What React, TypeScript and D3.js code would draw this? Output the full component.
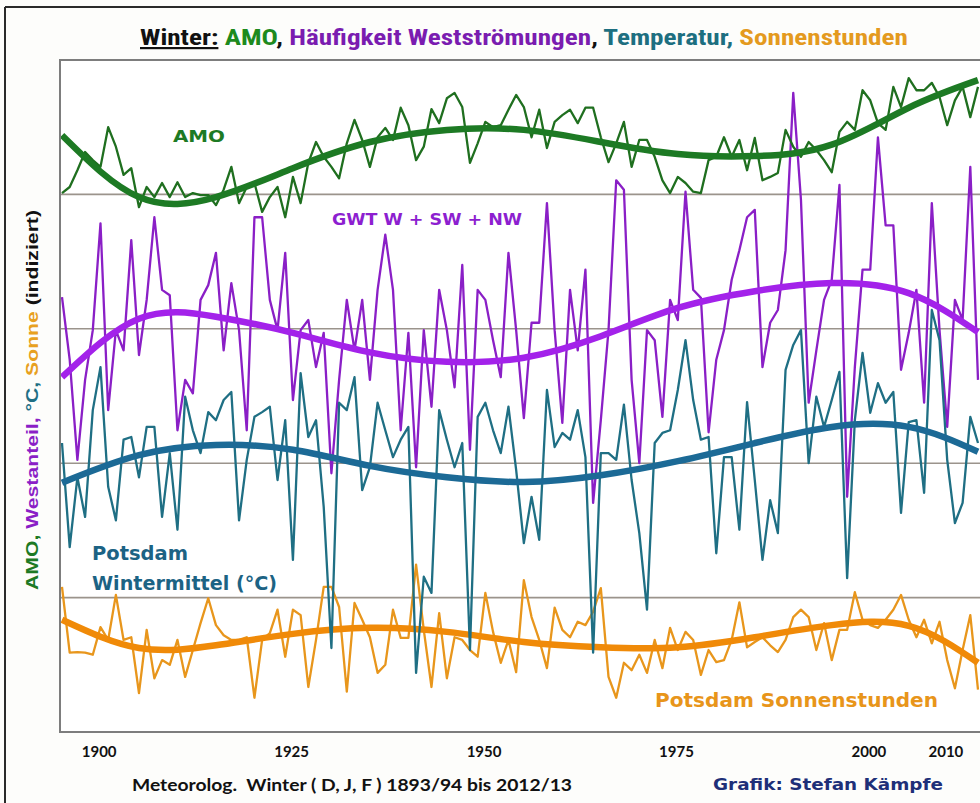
import React from 'react';
import * as d3 from 'd3';

// winters labelled by the year of January/February (1893/94 -> 1894)
const firstWinter = 1894;

// all series indexed 0..100 (as in the source chart: "indiziert")
const amo = [
  80.2, 81.1, 83.6, 86.3, 85.1, 84.1, 90.0, 87.1, 82.9, 83.9,
  78.1, 81.1, 79.6, 81.7, 79.6, 81.8, 79.6, 80.2, 79.9, 79.9,
  78.4, 80.7, 84.1, 78.7, 81.1, 81.7, 77.4, 79.6, 81.1, 76.6,
  82.6, 78.7, 84.7, 87.8, 85.6, 84.1, 82.4, 87.6, 91.1, 88.1,
  84.1, 88.5, 89.9, 88.1, 92.9, 90.3, 85.1, 87.1, 92.7, 90.6,
  94.3, 95.1, 93.0, 84.7, 87.6, 90.8, 90.0, 90.3, 92.6, 94.8,
  93.0, 88.5, 92.6, 86.9, 90.8, 91.8, 92.6, 90.6, 92.9, 92.9,
  88.5, 84.8, 87.6, 90.8, 84.1, 88.1, 88.1, 85.6, 82.1, 80.2,
  82.6, 81.7, 80.4, 80.2, 85.1, 85.6, 88.5, 85.6, 88.1, 83.6,
  88.4, 82.1, 82.6, 83.2, 89.6, 87.1, 85.6, 87.8, 86.6, 85.1,
  83.3, 89.3, 90.8, 89.6, 95.5, 94.0, 90.6, 89.6, 96.0, 93.0,
  97.3, 95.5, 95.5, 96.6, 94.5, 90.3, 94.0, 96.0, 91.5, 96.0,
];

const gwt = [
  64.7, 55.4, 40.5, 52.4, 59.8, 75.7, 47.9, 59.8, 56.8, 73.2,
  56.1, 64.3, 76.6, 65.8, 65.0, 44.9, 52.4, 50.4, 64.3, 66.5,
  71.3, 56.8, 66.8, 59.8, 44.9, 76.6, 76.6, 64.3, 59.8, 71.3,
  49.4, 59.8, 61.3, 54.3, 59.4, 38.5, 52.4, 64.3, 56.8, 64.3,
  52.4, 65.8, 74.0, 65.8, 44.9, 59.4, 39.4, 59.8, 48.4, 65.8,
  59.8, 51.3, 69.5, 42.0, 65.8, 64.3, 58.3, 52.8, 71.3, 59.8,
  46.7, 60.9, 60.9, 78.7, 59.8, 46.0, 65.8, 56.8, 68.8, 34.1,
  46.4, 59.8, 82.1, 80.7, 52.4, 40.0, 59.8, 58.3, 46.9, 64.3,
  61.3, 80.4, 65.8, 64.6, 44.6, 55.4, 59.8, 67.3, 71.7, 76.6,
  77.7, 54.3, 60.9, 62.8, 71.7, 95.1, 79.2, 49.0, 56.8, 64.3,
  67.3, 81.4, 35.0, 54.3, 68.8, 68.8, 88.5, 75.4, 75.4, 53.9,
  59.4, 65.8, 49.0, 78.7, 59.8, 45.4, 64.3, 61.3, 84.1, 52.4,
];

const temperature = [
  43.0, 27.5, 37.9, 32.0, 47.9, 54.3, 36.5, 31.5, 43.5, 43.9,
  37.9, 45.4, 45.4, 32.0, 41.5, 30.1, 49.9, 44.9, 41.5, 47.6,
  46.4, 49.4, 50.6, 31.5, 40.5, 46.9, 47.6, 48.4, 37.5, 46.4,
  25.6, 53.4, 43.9, 46.4, 33.5, 12.5, 49.0, 47.9, 52.8, 36.0,
  39.4, 49.0, 44.9, 40.9, 43.5, 45.4, 8.8, 23.1, 20.7, 47.9,
  43.5, 39.4, 43.0, 12.2, 46.9, 49.0, 44.9, 41.5, 48.4, 39.0,
  28.1, 35.0, 28.6, 50.9, 42.4, 44.5, 43.5, 47.9, 40.9, 11.8,
  41.5, 41.5, 40.5, 48.7, 37.5, 29.6, 18.2, 43.0, 44.5, 44.9,
  50.9, 58.3, 49.4, 43.5, 43.9, 26.6, 40.9, 40.9, 30.1, 49.1,
  37.5, 25.6, 34.5, 29.6, 53.9, 57.6, 59.8, 40.0, 49.9, 45.4,
  49.4, 53.6, 22.9, 46.4, 56.4, 47.5, 51.9, 49.0, 50.6, 32.6,
  46.1, 46.4, 35.6, 62.8, 58.3, 40.5, 31.1, 34.1, 46.9, 43.0,
];

const sunshine = [
  21.6, 11.8, 11.9, 11.8, 11.5, 15.6, 13.7, 20.4, 13.7, 14.1,
  5.8, 15.2, 8.0, 10.7, 10.0, 13.7, 8.2, 12.2, 16.2, 19.9,
  15.9, 14.4, 13.7, 13.7, 14.1, 5.1, 13.7, 14.7, 18.2, 11.2,
  18.2, 17.4, 6.7, 13.7, 21.6, 21.6, 18.6, 6.0, 19.2, 16.7,
  14.1, 8.8, 10.0, 18.2, 14.0, 14.0, 24.9, 15.2, 6.7, 17.7,
  8.0, 14.1, 13.7, 12.2, 11.2, 20.7, 14.9, 10.3, 13.7, 8.9,
  22.6, 17.1, 13.7, 9.5, 18.5, 15.2, 14.1, 16.4, 15.9, 17.9,
  21.4, 8.2, 5.1, 10.3, 9.2, 11.5, 8.8, 13.7, 9.5, 15.5,
  12.2, 14.9, 13.7, 8.5, 12.2, 10.4, 10.7, 13.7, 19.3, 12.6,
  13.4, 14.1, 12.9, 11.9, 13.7, 17.1, 18.2, 17.1, 12.2, 16.2,
  10.7, 15.2, 15.2, 20.8, 16.7, 15.9, 15.5, 16.7, 18.2, 20.4,
  16.7, 14.1, 16.7, 13.2, 16.4, 10.7, 6.5, 12.2, 17.4, 6.3,
];

// smoothed trend curves
const trendYears = [1894, 1904, 1914, 1924, 1934, 1944, 1954, 1964, 1974, 1984, 1994, 2004, 2013];
const amoTrend = [88.8, 79.6, 79.6, 83.9, 87.8, 89.6, 89.6, 87.8, 86.0, 85.7, 87.4, 92.9, 97.0];
const gwtTrend = [52.8, 61.5, 61.8, 59.4, 56.5, 55.1, 55.7, 58.9, 63.1, 65.6, 66.8, 65.3, 59.5];
const temperatureTrend = [37.1, 41.2, 42.7, 42.0, 39.6, 37.9, 37.2, 38.2, 40.3, 43.0, 45.4, 45.4, 41.7];
const sunshineTrend = [16.7, 12.5, 12.9, 14.6, 15.5, 14.9, 13.4, 12.6, 12.6, 14.1, 15.9, 15.8, 10.3];

const tickYears = [1900, 1925, 1950, 1975, 2000, 2010];
const gridValues = [20, 40, 60, 80];

const W = 980;
const H = 803;
const plot = { left: 60, top: 60, right: 1000, bottom: 732 };

const C = {
  amo: '#1f6f1f',
  amoTrend: '#1d7a24',
  gwt: '#8a1fc6',
  gwtTrend: '#a322ea',
  temp: '#1f6f84',
  tempTrend: '#1c6a96',
  sun: '#e8961c',
  sunTrend: '#f08a08',
};

const heavy = "'DejaVu Sans', 'Open Sans', sans-serif";
const narrow = "'Liberation Sans Narrow', 'Roboto Condensed', 'Liberation Sans', sans-serif";
const calibriLike = "Lato, 'Open Sans', sans-serif";

export default function App() {
  const x = d3.scaleLinear().domain([1894, 2013]).range([62, 978]);
  const y = d3.scaleLinear().domain([0, 100]).range([plot.bottom, plot.top]);

  const raw = d3
    .line<number>()
    .x((_, i) => x(firstWinter + i))
    .y((d) => y(d));

  const smooth = (vals: number[]) =>
    d3
      .line<number>()
      .curve(d3.curveNatural)
      .x((_, i) => x(trendYears[i]))
      .y((d) => y(d))(vals) || '';

  return (
    <svg width={W} height={H} style={{ display: 'block', position: 'absolute', left: 0, top: 0, background: '#fff' }}>
      <defs>
        <clipPath id="plotClip">
          <rect x={plot.left} y={plot.top} width={plot.right - plot.left} height={plot.bottom - plot.top} />
        </clipPath>
      </defs>
      <rect x={0} y={0} width={W} height={H} fill="#fdfdfb" />
      {/* outer frame */}
      <line x1={5} y1={7} x2={W} y2={7} stroke="#2a2a2a" strokeWidth={2} />
      <line x1={5} y1={7} x2={5} y2={H} stroke="#2a2a2a" strokeWidth={2} />

      {/* title */}
      <text x={140} y={45} textLength={768} lengthAdjust="spacingAndGlyphs" fontFamily={narrow} fontWeight="bold" fontSize={22}>
        <tspan fill="#111" style={{ textDecoration: 'underline' }}>Winter:</tspan>
        <tspan fill="#1d8a1d"> AMO</tspan>
        <tspan fill="#111">, </tspan>
        <tspan fill="#7a1cb0">Häufigkeit Westströmungen</tspan>
        <tspan fill="#111">, </tspan>
        <tspan fill="#1d6f80">Temperatur,</tspan>
        <tspan fill="#e49a1e"> Sonnenstunden</tspan>
      </text>

      {/* plot area */}
      <rect x={plot.left} y={plot.top} width={plot.right - plot.left} height={plot.bottom - plot.top} fill="#fff" />
      {gridValues.map((g) => (
        <line key={g} x1={plot.left} x2={plot.right} y1={y(g)} y2={y(g)} stroke="#9b948c" strokeWidth={1.6} />
      ))}

      <g clipPath="url(#plotClip)" fill="none" strokeLinejoin="round">
        <path d={raw(sunshine) || ''} stroke={C.sun} strokeWidth={2.3} />
        <path d={smooth(sunshineTrend)} stroke={C.sunTrend} strokeWidth={6.5} />
        <path d={raw(gwt) || ''} stroke={C.gwt} strokeWidth={2.3} />
        <path d={smooth(gwtTrend)} stroke={C.gwtTrend} strokeWidth={6.5} />
        <path d={raw(temperature) || ''} stroke={C.temp} strokeWidth={2.3} />
        <path d={smooth(temperatureTrend)} stroke={C.tempTrend} strokeWidth={6.5} />
        <path d={raw(amo) || ''} stroke={C.amo} strokeWidth={2.3} />
        <path d={smooth(amoTrend)} stroke={C.amoTrend} strokeWidth={6.5} />
      </g>

      <rect x={plot.left} y={plot.top} width={plot.right - plot.left} height={plot.bottom - plot.top} fill="none" stroke="#7d7d7d" strokeWidth={2} />

      {/* series labels */}
      <text x={173} y={142} textLength={52} lengthAdjust="spacingAndGlyphs" fontFamily={heavy} fontWeight="bold" fontSize={16} fill={C.amoTrend}>AMO</text>
      <text x={332} y={225} textLength={190} lengthAdjust="spacingAndGlyphs" fontFamily={heavy} fontWeight="bold" fontSize={16} fill="#8d1fd0">GWT W + SW + NW</text>
      <text x={92} y={560} textLength={96} lengthAdjust="spacingAndGlyphs" fontFamily={heavy} fontWeight="bold" fontSize={19} fill="#1c6384">Potsdam</text>
      <text x={92} y={590} textLength={185} lengthAdjust="spacingAndGlyphs" fontFamily={heavy} fontWeight="bold" fontSize={19} fill="#1c6384">Wintermittel (°C)</text>
      <text x={655} y={707} textLength={283} lengthAdjust="spacingAndGlyphs" fontFamily={heavy} fontWeight="bold" fontSize={19} fill="#e8951a">Potsdam Sonnenstunden</text>

      {/* y axis title */}
      <text transform="translate(38,590) rotate(-90)" textLength={380} lengthAdjust="spacingAndGlyphs" fontFamily="'Liberation Sans', Arial, sans-serif" fontWeight="bold" fontSize={17}>
        <tspan fill="#1d7a24">AMO, </tspan>
        <tspan fill="#8a1fc6">Westanteil, </tspan>
        <tspan fill="#1f6f84">°C, </tspan>
        <tspan fill="#e8a020">Sonne </tspan>
        <tspan fill="#111">(indiziert)</tspan>
      </text>

      {/* x tick labels */}
      {tickYears.map((t) => (
        <text key={t} x={x(t)} dx={-9} y={757} textAnchor="middle" fontFamily={calibriLike} fontWeight="bold" fontSize={15} fill="#111">
          {t}
        </text>
      ))}

      <text x={132} y={791} textLength={440} lengthAdjust="spacingAndGlyphs" fontFamily={calibriLike} fontWeight="bold" fontSize={17} fill="#111">
        {'Meteorolog.\u00a0\u00a0Winter ( D, J, F ) 1893/94 bis 2012/13'}
      </text>
      <text x={713} y={790} textLength={230} lengthAdjust="spacingAndGlyphs" fontFamily={heavy} fontWeight="bold" fontSize={15} fill="#1e2f78">
        Grafik: Stefan Kämpfe
      </text>
    </svg>
  );
}
